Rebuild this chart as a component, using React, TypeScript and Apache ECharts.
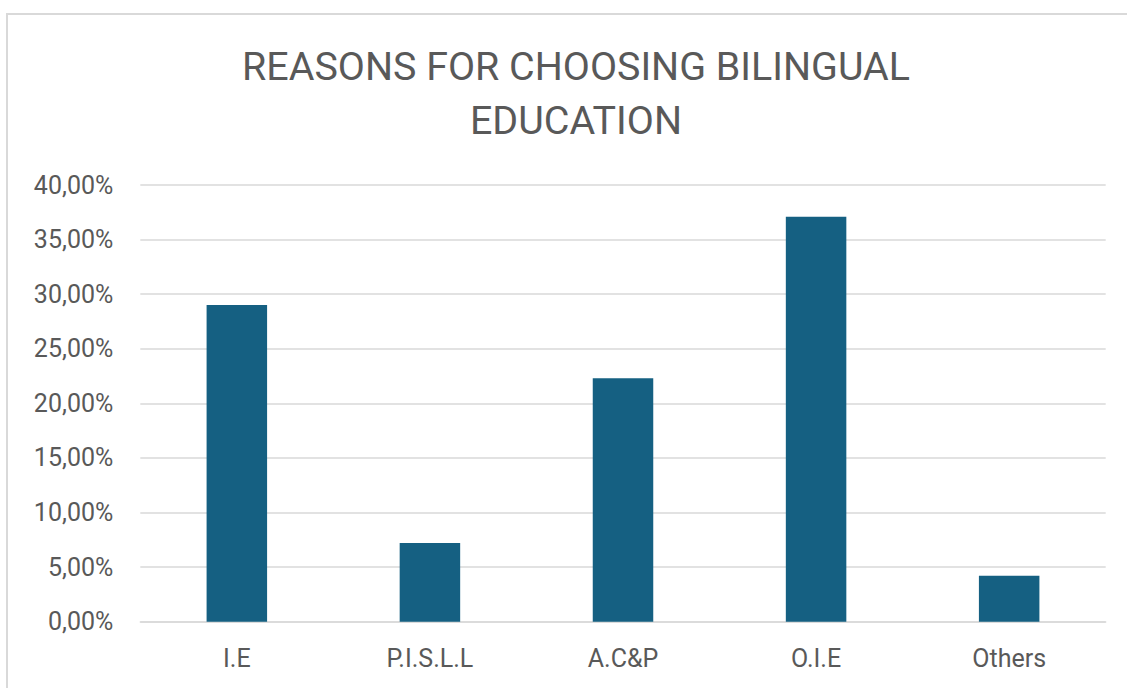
import React, { useEffect, useRef } from "react";
import * as echarts from "echarts";

const categories = ["I.E", "P.I.S.L.L", "A.C&P", "O.I.E", "Others"];
const values = [29.0, 7.2, 22.3, 37.1, 4.2];
const titleLines = ["REASONS FOR CHOOSING BILINGUAL", "EDUCATION"];

const FONT = "Roboto, 'Noto Sans', sans-serif";
const TEXT_COLOR = "#595959";
const GRID_COLOR = "#D9D9D9";
const BAR_COLOR = "#156082";

export default function App() {
  const ref = useRef<HTMLDivElement>(null);

  useEffect(() => {
    if (!ref.current) return;
    const chart = echarts.init(ref.current, undefined, { renderer: "svg" });
    chart.setOption({
      animation: false,
      backgroundColor: "#ffffff",
      graphic: [
        {
          type: "rect",
          shape: { x: 7, y: 14, width: 1300, height: 900 },
          style: { fill: "none", stroke: GRID_COLOR, lineWidth: 2 },
          silent: true,
        },
        {
          type: "text",
          x: 576,
          y: 40,
          style: {
            text: titleLines.join("\n"),
            font: `39.4px ${FONT}`,
            fill: TEXT_COLOR,
            textAlign: "center",
            textVerticalAlign: "top",
            lineHeight: 53.4,
          },
        },
      ],
      grid: {
        left: 140.3,
        right: 21.3,
        top: 185,
        bottom: 66.3,
        containLabel: false,
      },
      xAxis: {
        type: "category",
        data: categories,
        axisLine: { show: true, lineStyle: { color: GRID_COLOR, width: 1.5 } },
        axisTick: { show: false },
        axisLabel: {
          color: TEXT_COLOR,
          fontFamily: FONT,
          fontSize: 25,
          margin: 24,
        },
      },
      yAxis: {
        type: "value",
        min: 0,
        max: 40,
        interval: 5,
        axisLine: { show: false },
        axisTick: { show: false },
        splitLine: { show: true, lineStyle: { color: GRID_COLOR, width: 1.5 } },
        axisLabel: {
          color: TEXT_COLOR,
          fontFamily: FONT,
          fontSize: 25,
          margin: 27,
          formatter: (v: number) => v.toFixed(2).replace(".", ",") + "%",
        },
      },
      series: [
        {
          type: "bar",
          data: values,
          barWidth: 60.5,
          itemStyle: { color: BAR_COLOR },
        },
      ],
    });
    return () => chart.dispose();
  }, []);

  return (
    <div
      ref={ref}
      style={{ position: "absolute", left: 0, top: 0, width: 1127, height: 688 }}
    />
  );
}
